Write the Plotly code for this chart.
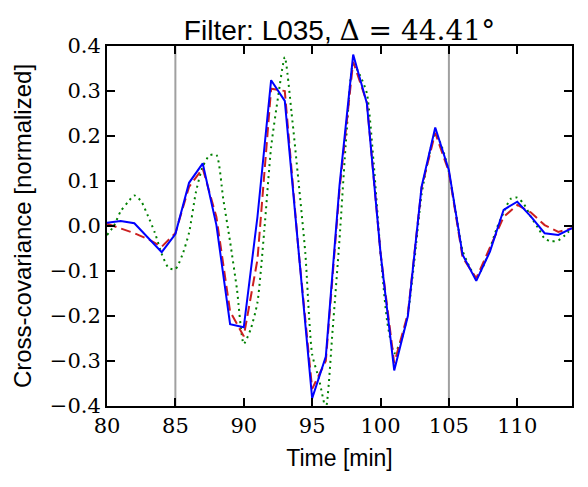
import plotly.graph_objects as go

# ---- data ----
t_int = list(range(80, 115))
blue_vals = [0.007, 0.011, 0.006, -0.027, -0.058, -0.018, 0.096, 0.139, 0.002, -0.218,
             -0.225, 0.02, 0.324, 0.278, -0.06, -0.383, -0.29, 0.09, 0.381, 0.273,
             -0.06, -0.321, -0.20, 0.087, 0.219, 0.124, -0.064, -0.122, -0.057, 0.036,
             0.054, 0.021, -0.016, -0.02, -0.005]
red_vals = [0.005, -0.005, -0.016, -0.029, -0.046, -0.016, 0.087, 0.128, 0.02, -0.19,
            -0.245, -0.075, 0.305, 0.30, -0.053, -0.362, -0.30, 0.08, 0.365, 0.275,
            -0.06, -0.305, -0.195, 0.085, 0.207, 0.12, -0.07, -0.116, -0.046, 0.02,
            0.047, 0.03, 0.002, -0.013, -0.005]
t_half = [80 + 0.5 * i for i in range(69)]
green_vals = [-0.02, 0.0, 0.033, 0.052, 0.068, 0.055, 0.022, -0.015, -0.062, -0.093,
              -0.096, -0.065, -0.015, 0.075, 0.132, 0.157, 0.158, 0.06, -0.035, -0.14,
              -0.262, -0.23, -0.17, -0.01, 0.175, 0.285, 0.375, 0.25, 0.1, -0.06,
              -0.285, -0.34, -0.405, -0.23, -0.03, 0.2, 0.36, 0.335, 0.295, 0.139,
              -0.06, -0.215, -0.283, -0.255, -0.195, -0.07, 0.07, 0.15, 0.205, 0.175,
              0.12, 0.03, -0.055, -0.09, -0.115, -0.09, -0.05, -0.005, 0.03, 0.06,
              0.063, 0.048, 0.02, -0.003, -0.028, -0.034, -0.032, -0.02, -0.005]
vlines = [85, 105]
x_ticks = [80, 85, 90, 95, 100, 105, 110]
x_ticktext = ["80", "85", "90", "95", "100", "105", "110"]
y_ticks = [-0.4, -0.3, -0.2, -0.1, 0.0, 0.1, 0.2, 0.3, 0.4]
y_ticktext = ["\u22120.4", "\u22120.3", "\u22120.2", "\u22120.1", "0.0", "0.1", "0.2", "0.3", "0.4"]

serif = "DejaVu Serif"
sans = "Liberation Sans"

fig = go.Figure()
fig.add_trace(go.Scatter(x=t_half, y=green_vals, mode="lines",
                         line=dict(color="#008000", width=2, dash="2px,4px", shape="spline", smoothing=0.6)))
fig.add_trace(go.Scatter(x=t_int, y=red_vals, mode="lines",
                         line=dict(color="#cc2020", width=2, dash="10px,5px")))
fig.add_trace(go.Scatter(x=t_int, y=blue_vals, mode="lines",
                         line=dict(color="#0000ff", width=2)))

for v in vlines:
    fig.add_shape(type="line", xref="x", yref="paper", x0=v, x1=v, y0=0, y1=1,
                  line=dict(color="#a0a0a0", width=2), layer="below")

axis_common = dict(showline=True, linecolor="black", linewidth=2, mirror="ticks",
                   ticks="inside", ticklen=8, tickwidth=1.5, tickcolor="black",
                   showgrid=False, zeroline=False,
                   tickfont=dict(family=serif, size=21, color="black"))

fig.update_layout(
    width=588, height=487,
    margin=dict(l=107, r=16, t=46, b=81),
    paper_bgcolor="white", plot_bgcolor="white",
    showlegend=False,
    title=dict(
        text="Filter: L035, <span style='font-family:" + serif + "'>\u0394 = 44.41\u00b0</span>",
        font=dict(family=sans, size=28, color="black"),
        x=0.5, xref="paper", xanchor="center",
        y=1 - 30 / 487, yref="container", yanchor="middle"),
    xaxis=dict(range=[80, 114], tickvals=x_ticks, ticktext=x_ticktext,
               title=dict(text="Time [min]", font=dict(family=sans, size=23, color="black"), standoff=13),
               **axis_common),
    yaxis=dict(range=[-0.4, 0.4], tickvals=y_ticks, ticktext=y_ticktext,
               title=dict(text="Cross-covariance [normalized]", font=dict(family=sans, size=24, color="black"), standoff=11),
               **axis_common),
)

fig.write_html("out.html")
